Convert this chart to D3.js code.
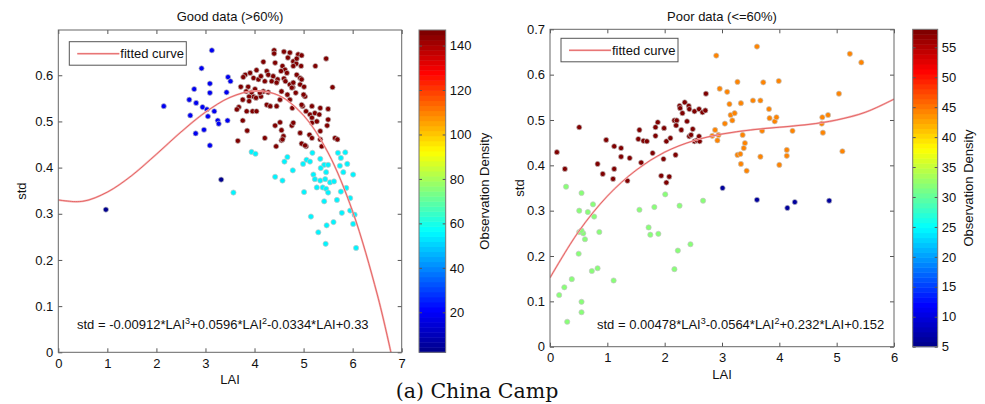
<!DOCTYPE html>
<html>
<head>
<meta charset="utf-8">
<script src="https://cdnjs.cloudflare.com/ajax/libs/d3/7.8.5/d3.min.js"></script>
<style>
  body { margin: 0; background: #fff; }
  text { font-family: "Liberation Sans", Arial, Helvetica, sans-serif; fill: #111; }
</style>
</head>
<body>
<svg id="chart" width="985" height="404"></svg>
<script>
// ---- values ----

// Good data (>60%): LAI, std
const goodNavy = [[0.97,0.309],[3.32,0.374]];
const goodBlue = [[2.15,0.533],[3.13,0.654],[2.92,0.615],[2.77,0.570],[2.67,0.547],[2.69,0.513],[2.81,0.540],
  [2.94,0.531],[3.03,0.526],[3.05,0.511],[3.09,0.582],[3.09,0.562],[3.18,0.522],[3.25,0.502],[3.27,0.495],
  [3.45,0.502],[3.46,0.596],[3.51,0.587],[3.43,0.563],[2.97,0.482],[2.80,0.474],[3.09,0.448]];
const goodRed = [[4.40,0.654],[4.40,0.647],[4.60,0.651],[4.72,0.649],[4.89,0.645],[4.96,0.643],[5.46,0.636],
  [4.68,0.638],[4.79,0.630],[4.18,0.629],[4.85,0.625],[4.95,0.620],[5.24,0.620],[4.42,0.627],[4.57,0.620],
  [4.62,0.612],[4.54,0.609],[4.66,0.605],[4.25,0.609],[4.04,0.611],[3.81,0.601],[3.77,0.596],[3.98,0.594],
  [4.08,0.591],[4.28,0.601],[4.38,0.598],[4.47,0.591],[4.60,0.593],[4.86,0.601],[4.93,0.594],[4.21,0.587],
  [4.35,0.587],[4.45,0.584],[4.63,0.587],[4.72,0.580],[4.78,0.574],[4.93,0.580],[5.01,0.575],[5.59,0.574],
  [3.72,0.575],[3.87,0.575],[3.83,0.565],[4.01,0.570],[3.98,0.554],[3.89,0.554],[3.76,0.547],[3.89,0.544],
  [4.13,0.554],[4.18,0.565],[4.55,0.565],[4.67,0.558],[4.76,0.573],[4.84,0.562],[5.03,0.554],[4.52,0.547],
  [4.72,0.547],[4.25,0.536],[4.32,0.533],[3.68,0.531],[3.64,0.526],[3.84,0.522],[3.96,0.522],[4.04,0.522],
  [4.77,0.529],[4.98,0.533],[5.13,0.515],[5.34,0.529],[5.23,0.518],[5.32,0.515],[5.17,0.508],[5.50,0.527],
  [5.50,0.504],[3.76,0.502],[5.17,0.497],[4.42,0.491],[4.52,0.498],[4.76,0.491],[5.48,0.491],[3.85,0.480],
  [4.93,0.475],[5.12,0.471],[5.17,0.464],[4.59,0.468],[4.21,0.464],[5.64,0.464],[5.69,0.461],[5.34,0.461],
  [4.55,0.459],[3.66,0.458],[4.96,0.452],[4.44,0.446],[5.37,0.446],[5.05,0.446],[4.57,0.461],[5.03,0.448],
  [4.86,0.636],[4.79,0.620],[3.91,0.605],[4.13,0.598],[4.79,0.584],[4.96,0.591],[3.94,0.563],[4.11,0.562],
  [4.28,0.563],[5.00,0.558],[4.03,0.551],[4.45,0.533],[5.05,0.522],[4.96,0.536],[5.17,0.533],[5.27,0.500],
  [4.79,0.497],[4.55,0.481],[5.34,0.479]];
const goodCyan = [[3.94,0.434],[4.02,0.430],[4.67,0.423],[4.61,0.413],[4.42,0.380],[4.57,0.372],[4.78,0.394],
  [3.57,0.346],[5.18,0.432],[5.06,0.417],[5.13,0.413],[4.99,0.408],[5.34,0.419],[5.42,0.406],[5.50,0.406],
  [5.35,0.399],[5.46,0.390],[5.20,0.385],[5.23,0.375],[5.34,0.372],[5.44,0.375],[5.54,0.368],[5.62,0.370],
  [5.27,0.357],[5.39,0.357],[5.46,0.354],[5.50,0.346],[5.01,0.347],[5.70,0.432],[5.85,0.433],[5.76,0.421],
  [5.89,0.408],[5.74,0.404],[5.81,0.390],[6.01,0.385],[5.76,0.348],[5.87,0.356],[5.95,0.334],[5.68,0.330],
  [5.42,0.327],[5.78,0.302],[5.95,0.307],[6.04,0.298],[5.15,0.294],[5.61,0.282],[5.47,0.275],[6.01,0.278],
  [5.30,0.260],[5.45,0.235],[6.07,0.226]];
const goodDensity = [3, 20, 147, 56];          // navy, blue, dark red, cyan
const goodCurveLAI = [0, 0.5, 1, 1.5, 2, 2.5, 3, 3.5, 4, 4.5, 5, 5.5, 6, 6.5, 6.78];
const goodCurveStd = [0.330, 0.327, 0.347, 0.383, 0.429, 0.477, 0.520, 0.552, 0.566, 0.556, 0.513, 0.432, 0.305, 0.126, 0];

// Poor data (<=60%)
const poorNavy = [[3.01,0.350],[3.61,0.324],[4.27,0.319],[4.14,0.306],[4.87,0.322]];
const poorGreen = [[0.28,0.353],[0.55,0.339],[0.51,0.300],[0.66,0.297],[0.75,0.314],[0.77,0.287],[0.51,0.253],
  [0.58,0.250],[0.55,0.256],[0.61,0.237],[0.86,0.253],[0.50,0.205],[0.73,0.167],[0.83,0.173],[0.38,0.149],
  [0.25,0.131],[0.16,0.114],[0.55,0.099],[0.55,0.076],[0.30,0.055],[1.11,0.146],[1.56,0.302],[1.82,0.308],
  [1.72,0.263],[1.75,0.247],[1.89,0.249],[2.01,0.336],[2.26,0.311],[2.67,0.322],[2.23,0.212],[2.45,0.226],
  [2.17,0.171]];
const poorRed = [[0.12,0.429],[0.26,0.392],[0.51,0.484],[0.83,0.403],[0.92,0.381],[0.98,0.456],[1.12,0.442],
  [1.12,0.392],[1.10,0.370],[1.24,0.438],[1.24,0.419],[1.35,0.366],[1.39,0.416],[1.54,0.458],[1.56,0.478],
  [1.59,0.406],[1.63,0.454],[1.69,0.453],[1.79,0.427],[1.84,0.465],[1.84,0.484],[1.88,0.495],[1.94,0.377],
  [1.98,0.414],[1.99,0.482],[2.03,0.453],[2.03,0.362],[2.08,0.375],[2.10,0.460],[2.17,0.499],[2.21,0.499],
  [2.19,0.423],[2.20,0.488],[2.26,0.531],[2.27,0.526],[2.29,0.478],[2.31,0.515],[2.35,0.539],[2.39,0.497],
  [2.42,0.531],[2.43,0.524],[2.43,0.464],[2.46,0.467],[2.49,0.480],[2.52,0.519],[2.52,0.453],[2.56,0.455],
  [2.60,0.524],[2.60,0.464],[2.61,0.453],[2.66,0.517],[2.71,0.521],[2.72,0.558]];
const poorOrange = [[2.90,0.642],[3.61,0.662],[5.23,0.646],[5.43,0.627],[2.96,0.569],[3.09,0.562],[3.27,0.584],
  [3.72,0.583],[3.99,0.586],[3.13,0.535],[3.33,0.537],[3.54,0.543],[3.67,0.543],[3.82,0.524],[3.15,0.511],
  [3.22,0.515],[3.18,0.499],[3.05,0.492],[3.83,0.504],[3.92,0.497],[3.95,0.506],[5.04,0.558],[4.75,0.506],
  [4.85,0.511],[4.74,0.492],[4.76,0.472],[4.23,0.476],[3.70,0.476],[3.36,0.467],[2.88,0.478],[2.94,0.467],
  [2.83,0.465],[2.92,0.455],[3.40,0.449],[3.38,0.438],[3.27,0.423],[3.32,0.425],[4.13,0.434],[4.13,0.421],
  [3.67,0.419],[3.33,0.403],[3.43,0.388],[4.00,0.401],[5.10,0.431]];
const poorDensity = [6, 31.5, 58, 44.7];       // navy, green, dark red, orange
const poorCurveLAI = [0, 0.5, 1, 1.5, 2, 2.5, 3, 3.5, 4, 4.5, 5, 5.5, 6];
const poorCurveStd = [0.152, 0.254, 0.332, 0.389, 0.429, 0.454, 0.469, 0.478, 0.484, 0.490, 0.500, 0.517, 0.546];

const goodXTicks = [0, 1, 2, 3, 4, 5, 6, 7];
const poorXTicks = [0, 1, 2, 3, 4, 5, 6];
const goodYTicks = [0, 0.1, 0.2, 0.3, 0.4, 0.5, 0.6];
const poorYTicks = [0, 0.1, 0.2, 0.3, 0.4, 0.5, 0.6, 0.7];
const goodCTicks = [20, 40, 60, 80, 100, 120, 140];
const poorCTicks = [5, 10, 15, 20, 25, 30, 35, 40, 45, 50, 55];

// ---- drawing ----
const svg = d3.select('#chart');

// MATLAB jet colormap, 64 entries
const jet = d3.scaleLinear()
    .domain([0, 0.125, 0.375, 0.625, 0.875, 1])
    .range(['#00008f', '#0000ff', '#00ffff', '#ffff00', '#ff0000', '#800000'])
    .clamp(true);
const N_COLORS = 64;

function jetColor(v, domain) {
    let t = (v - domain[0]) / (domain[1] - domain[0]);
    let i = Math.max(0, Math.min(N_COLORS - 1, Math.floor(t * N_COLORS)));
    return jet(i / (N_COLORS - 1));
}

const stdFormat = d => d === 0 ? '0' : d3.format('.1f')(d);

function styleAxis(sel) {
    sel.attr('font-family', '"Liberation Sans", Arial, sans-serif').attr('font-size', 13);
    sel.select('.domain').remove();
    sel.selectAll('.tick line').attr('stroke', '#555');
    sel.selectAll('.tick text').attr('fill', '#111');
}

function panel(o) {
    let x = d3.scaleLinear().domain(o.xDomain).range([o.left, o.right]);
    let y = d3.scaleLinear().domain(o.yDomain).range([o.bottom, o.top]);
    let g = svg.append('g');
    let w = o.right - o.left, h = o.bottom - o.top;

    g.append('clipPath').attr('id', o.id + 'clip')
        .append('rect').attr('x', o.left).attr('y', o.top).attr('width', w).attr('height', h);

    // axes, ticks pointing inwards on all four sides
    g.append('g').attr('transform', `translate(0,${o.bottom})`)
        .call(d3.axisBottom(x).tickValues(o.xTicks).tickSize(-4).tickSizeOuter(0).tickPadding(6).tickFormat(d3.format('d')))
        .call(styleAxis);
    g.append('g').attr('transform', `translate(0,${o.top})`)
        .call(d3.axisTop(x).tickValues(o.xTicks).tickSize(-4).tickSizeOuter(0).tickFormat(''))
        .call(styleAxis);
    g.append('g').attr('transform', `translate(${o.left},0)`)
        .call(d3.axisLeft(y).tickValues(o.yTicks).tickSize(-4).tickSizeOuter(0).tickPadding(5).tickFormat(stdFormat))
        .call(styleAxis);
    g.append('g').attr('transform', `translate(${o.right},0)`)
        .call(d3.axisRight(y).tickValues(o.yTicks).tickSize(-4).tickSizeOuter(0).tickFormat(''))
        .call(styleAxis);

    // scatter points coloured by observation density
    let pts = [];
    o.series.forEach((s, i) => s.forEach(p => pts.push({ lai: p[0], std: p[1], dens: o.density[i] })));
    g.append('g').selectAll('circle')
        .data(pts)
        .enter().append('circle')
        .attr('cx', d => x(d.lai))
        .attr('cy', d => y(d.std))
        .attr('r', 2.6)
        .attr('fill', d => jetColor(d.dens, o.cDomain))
        .attr('stroke', '#c4c4c4')
        .attr('stroke-width', 0.7);

    // fitted curve
    let curve = o.curveX.map((v, i) => [v, o.curveY[i]]);
    let line = d3.line().x(d => x(d[0])).y(d => y(d[1])).curve(d3.curveCatmullRom);
    let cg = g.append('g').attr('clip-path', `url(#${o.id}clip)`);
    cg.append('path').datum(curve).attr('d', line).attr('fill', 'none').attr('stroke', '#f6b8b8').attr('stroke-width', 2);
    cg.append('path').datum(curve).attr('d', line).attr('fill', 'none').attr('stroke', '#e05050').attr('stroke-width', 0.8);

    // frame
    g.append('rect').attr('x', o.left).attr('y', o.top).attr('width', w).attr('height', h)
        .attr('fill', 'none').attr('stroke', '#666');

    // legend
    let lg = g.append('g').attr('transform', `translate(${o.left + 11},${o.top + o.legendDy})`);
    lg.append('rect').attr('width', 117).attr('height', 23.5).attr('fill', '#fff').attr('stroke', '#555');
    lg.append('line').attr('x1', 8).attr('x2', 50).attr('y1', 12).attr('y2', 12)
        .attr('stroke', '#f6b8b8').attr('stroke-width', 2);
    lg.append('line').attr('x1', 8).attr('x2', 50).attr('y1', 12).attr('y2', 12)
        .attr('stroke', '#e05050').attr('stroke-width', 0.8);
    lg.append('text').attr('x', 51).attr('y', 16.5).attr('font-size', 13).text('fitted curve');

    // equation
    let eq = g.append('text').attr('x', o.eqX).attr('y', o.eqY).attr('font-size', 13);
    o.equation.forEach((part, i) => {
        let t = eq.append('tspan').text(part);
        if (i % 2 === 1) t.attr('dy', -5).attr('font-size', 9);
        else if (i > 0) t.attr('dy', 5);
    });

    // titles and axis labels
    g.append('text').attr('x', (o.left + o.right) / 2).attr('y', 21)
        .attr('text-anchor', 'middle').attr('font-size', 13).text(o.title);
    g.append('text').attr('x', (o.left + o.right) / 2).attr('y', o.bottom + 32)
        .attr('text-anchor', 'middle').attr('font-size', 13).text('LAI');
    g.append('text').attr('transform', `translate(${o.stdX},${(o.top + o.bottom) / 2}) rotate(-90)`)
        .attr('text-anchor', 'middle').attr('font-size', 13).text('std');

    // colorbar
    let c = d3.scaleLinear().domain(o.cDomain).range([o.bottom, o.top]);
    let cb = g.append('g');
    let band = (o.bottom - o.top) / N_COLORS;
    cb.selectAll('rect')
        .data(d3.range(N_COLORS))
        .enter().append('rect')
        .attr('x', o.cbLeft)
        .attr('width', o.cbWidth)
        .attr('y', i => o.bottom - (i + 1) * band)
        .attr('height', band + 0.5)
        .attr('fill', i => jet(i / (N_COLORS - 1)));
    cb.append('g').attr('transform', `translate(${o.cbLeft + o.cbWidth},0)`)
        .call(d3.axisRight(c).tickValues(o.cTicks).tickSize(-3).tickSizeOuter(0).tickPadding(4))
        .call(styleAxis);
    cb.append('g').attr('transform', `translate(${o.cbLeft},0)`)
        .call(d3.axisLeft(c).tickValues(o.cTicks).tickSize(-3).tickSizeOuter(0).tickFormat(''))
        .call(styleAxis);
    cb.append('rect').attr('x', o.cbLeft).attr('y', o.top).attr('width', o.cbWidth).attr('height', o.bottom - o.top)
        .attr('fill', 'none').attr('stroke', '#777');
    g.append('text').attr('transform', `translate(${o.cbLabelX},${(o.top + o.bottom) / 2}) rotate(-90)`)
        .attr('text-anchor', 'middle').attr('font-size', 13).text('Observation Density');
}

panel({
    id: 'good', left: 58.3, right: 401.7, top: 30, bottom: 352.3,
    xDomain: [0, 7], yDomain: [0, 0.698], xTicks: goodXTicks, yTicks: goodYTicks,
    series: [goodNavy, goodBlue, goodRed, goodCyan], density: goodDensity,
    cDomain: [2, 147], cTicks: goodCTicks, cbLeft: 419, cbWidth: 26.7, cbLabelX: 489,
    curveX: goodCurveLAI, curveY: goodCurveStd, legendDy: 11.7,
    equation: ['std = -0.00912*LAI', '3', '+0.0596*LAI', '2', '-0.0334*LAI+0.33'], eqX: 77, eqY: 329,
    title: 'Good data (>60%)', stdX: 26
});

panel({
    id: 'poor', left: 550, right: 894, top: 29.3, bottom: 346.7,
    xDomain: [0, 6], yDomain: [0, 0.7], xTicks: poorXTicks, yTicks: poorYTicks,
    series: [poorNavy, poorGreen, poorRed, poorOrange], density: poorDensity,
    cDomain: [5, 58], cTicks: poorCTicks, cbLeft: 912.7, cbWidth: 25, cbLabelX: 973,
    curveX: poorCurveLAI, curveY: poorCurveStd, legendDy: 9,
    equation: ['std = 0.00478*LAI', '3', '-0.0564*LAI', '2', '+0.232*LAI+0.152'], eqX: 597, eqY: 329,
    title: 'Poor data (<=60%)', stdX: 524
});

// caption
svg.append('text')
    .attr('x', 477).attr('y', 397.5)
    .attr('text-anchor', 'middle')
    .style('font-family', '"DejaVu Serif", "Liberation Serif", serif')
    .style('font-size', '20.5px')
    .text('(a) China Camp');
</script>
</body>
</html>
